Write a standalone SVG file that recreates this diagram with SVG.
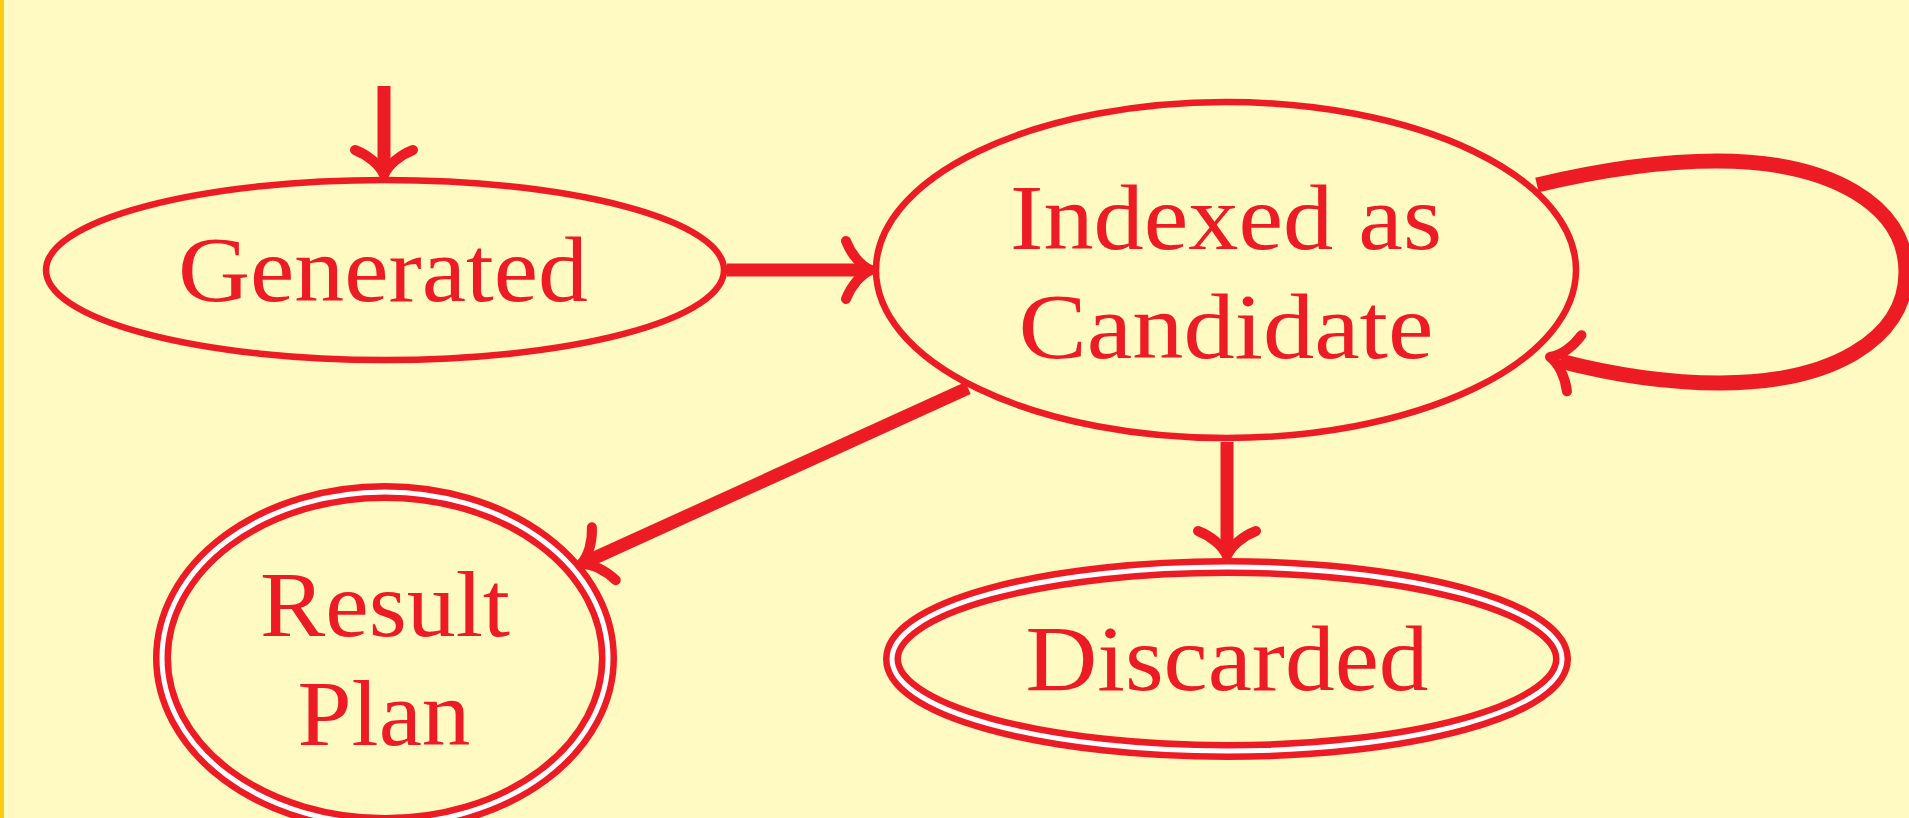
<svg xmlns="http://www.w3.org/2000/svg" xmlns:xlink="http://www.w3.org/1999/xlink" width="1909" height="818" viewBox="0 0 1909 818">
<style>
.bg{fill:#FFF9C2}
.node{fill:none;stroke:#ED1C24;stroke-width:6.5}
.ring{fill:none;stroke:#ED1C24;stroke-width:18}
.gap{fill:none;stroke:#FFFFFF;stroke-width:5}
.lbl{font-family:"Liberation Serif","Times New Roman",serif;font-size:94px;fill:#ED1C24;text-anchor:middle}
.edge{fill:none;stroke:#ED1C24;stroke-width:13;stroke-linecap:butt}
.loop{fill:none;stroke:#ED1C24;stroke-width:15;stroke-linecap:butt}
.head{fill:none;stroke:#ED1C24;stroke-width:10;stroke-linecap:round;stroke-linejoin:round}
</style>
<defs>
<path id="ah" class="head" d="M-25,-29 C-20,-16 -10,-4 0,0 C-10,4 -20,16 -25,29"/>
</defs>
<rect class="bg" x="0" y="0" width="1909" height="818"/>
<rect x="0" y="0" width="4" height="818" fill="#FFCC11"/>
<g id="connectors">
<line class="edge" x1="384" y1="86" x2="384" y2="166"/>
<use xlink:href="#ah" transform="translate(384,175) rotate(90)"/>
<line class="edge" x1="727" y1="270" x2="862" y2="270"/>
<use xlink:href="#ah" transform="translate(871,270)"/>
<path class="loop" d="M1537,185 C1600,170 1660,161 1717,161 C1830,161 1906,205 1906,272 C1906,340 1830,383 1720,383 C1665,383 1610,374 1560,361"/>
<use xlink:href="#ah" transform="translate(1550,357) rotate(194.5)"/>
<line class="edge" x1="968" y1="388" x2="590" y2="560"/>
<use xlink:href="#ah" transform="translate(581,564) rotate(155.7)"/>
<line class="edge" x1="1227" y1="442" x2="1227" y2="547"/>
<use xlink:href="#ah" transform="translate(1227,556) rotate(90)"/>
</g>
<g id="generated">
<ellipse class="node" cx="385" cy="270" rx="339" ry="90"/>
<text class="lbl" x="383" y="301" textLength="410" lengthAdjust="spacingAndGlyphs">Generated</text>
</g>
<g id="indexed">
<ellipse class="node" cx="1226" cy="270" rx="350" ry="168"/>
<text class="lbl" x="1226" y="249" textLength="432" lengthAdjust="spacingAndGlyphs">Indexed as</text>
<text class="lbl" x="1226" y="358" textLength="415" lengthAdjust="spacingAndGlyphs">Candidate</text>
</g>
<g id="result">
<ellipse class="ring" cx="385" cy="658" rx="223" ry="166"/>
<ellipse class="gap" cx="385" cy="658" rx="223" ry="166"/>
<text class="lbl" x="385" y="636" textLength="250" lengthAdjust="spacingAndGlyphs">Result</text>
<text class="lbl" x="384" y="745" textLength="173" lengthAdjust="spacingAndGlyphs">Plan</text>
</g>
<g id="discarded">
<ellipse class="ring" cx="1227" cy="659" rx="335" ry="92"/>
<ellipse class="gap" cx="1227" cy="659" rx="335" ry="92"/>
<text class="lbl" x="1227" y="690" textLength="403" lengthAdjust="spacingAndGlyphs">Discarded</text>
</g>
</svg>
